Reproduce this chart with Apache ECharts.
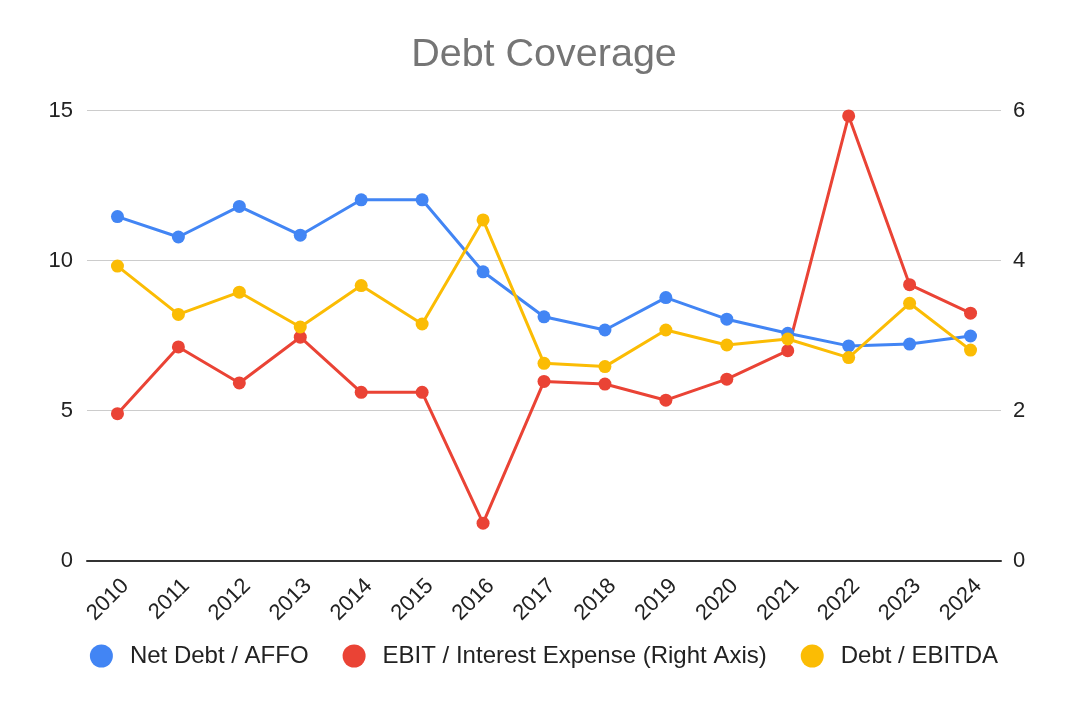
<!DOCTYPE html>
<html lang="en">

<head>
    <meta charset="UTF-8">
    <title>Debt Coverage</title>
    <style>
        html,
        body {
            height: 100%;
            width: 100%;
            margin: 0;
            padding: 0;
            background: #fff;
        }
    </style>
</head>

<body>
    <div id="main" style="width: 1088px;height:702px;"></div>
    <script src="https://cdn.jsdelivr.net/npm/echarts@6/dist/echarts.min.js"></script>
    <script type="text/javascript">
        var years = ['2010', '2011', '2012', '2013', '2014', '2015', '2016', '2017',
            '2018', '2019', '2020', '2021', '2022', '2023', '2024'];
        // left axis
        var netDebtAffo = [11.47, 10.79, 11.81, 10.85, 12.03, 12.03, 9.63, 8.13,
            7.69, 8.77, 8.05, 7.58, 7.16, 7.22, 7.49];
        var debtEbitda = [9.82, 8.21, 8.95, 7.79, 9.17, 7.89, 11.36, 6.58,
            6.47, 7.69, 7.19, 7.39, 6.77, 8.58, 7.02];
        // right axis
        var ebitInterest = [1.96, 2.85, 2.37, 2.98, 2.245, 2.245, 0.50, 2.39,
            2.355, 2.14, 2.42, 2.80, 5.93, 3.68, 3.30];

        var font = 'Arial, "Liberation Sans", sans-serif';
        var myChart = echarts.init(document.getElementById('main'));

        function lineSeries(name, data, color, axisIdx) {
            return {
                name: name,
                type: 'line',
                yAxisIndex: axisIdx,
                data: data,
                symbol: 'circle',
                symbolSize: 13,
                lineStyle: { width: 3, color: color },
                itemStyle: { color: color },
                emphasis: { disabled: true }
            };
        }

        var option = {
            animation: false,
            title: {
                text: 'Debt Coverage',
                left: 'center',
                top: 30,
                textStyle: {
                    fontFamily: font,
                    fontSize: 39.5,
                    fontWeight: 'normal',
                    color: '#757575'
                }
            },
            legend: {
                left: 'center',
                top: 639,
                icon: 'circle',
                itemWidth: 23,
                itemHeight: 23,
                itemGap: 34,
                textStyle: {
                    fontFamily: font,
                    fontSize: 24,
                    color: '#222',
                    padding: [0, 0, 0, 12]
                },
                data: ['Net Debt / AFFO', 'EBIT / Interest Expense (Right Axis)', 'Debt / EBITDA']
            },
            grid: {
                left: 87,
                right: 87,
                top: 110.7,
                bottom: 141.3
            },
            xAxis: {
                type: 'category',
                data: years,
                boundaryGap: true,
                axisTick: { show: false },
                axisLine: { lineStyle: { color: '#333', width: 2 } },
                axisLabel: {
                    rotate: 45,
                    margin: 14,
                    interval: 0,
                    verticalAlign: 'top',
                    fontFamily: font,
                    fontSize: 22,
                    color: '#222'
                }
            },
            yAxis: [{
                type: 'value',
                min: 0,
                max: 15,
                interval: 5,
                axisLine: { show: false },
                axisTick: { show: false },
                splitLine: { lineStyle: { color: '#ccc', width: 1 } },
                axisLabel: { margin: 14, fontFamily: font, fontSize: 22, color: '#222' }
            }, {
                type: 'value',
                min: 0,
                max: 6,
                interval: 2,
                position: 'right',
                axisLine: { show: false },
                axisTick: { show: false },
                splitLine: { show: false },
                axisLabel: { margin: 12, fontFamily: font, fontSize: 22, color: '#222' }
            }],
            series: [
                lineSeries('Net Debt / AFFO', netDebtAffo, '#4285F4', 0),
                lineSeries('EBIT / Interest Expense (Right Axis)', ebitInterest, '#EA4335', 1),
                lineSeries('Debt / EBITDA', debtEbitda, '#FBBC04', 0)
            ]
        };
        myChart.setOption(option);
    </script>
</body>

</html>
